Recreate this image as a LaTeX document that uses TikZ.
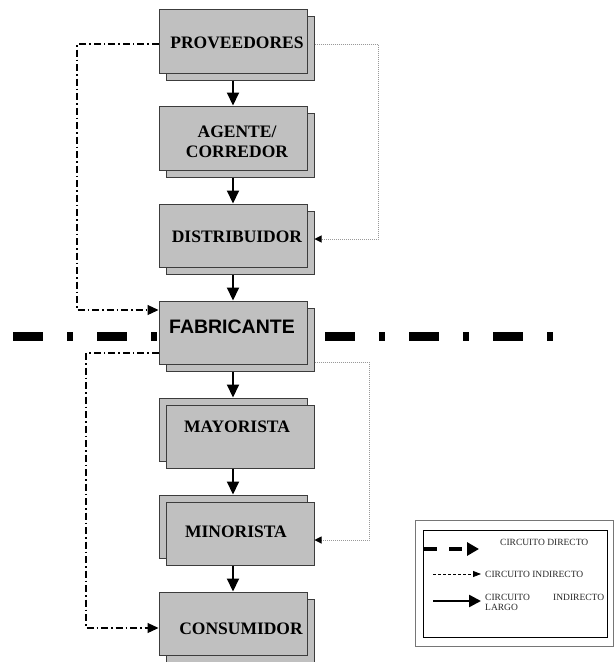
\documentclass[tikz,border=0pt]{standalone}
\usepackage{fontspec}
\setmainfont{Liberation Serif}
\newfontfamily\arial{Liberation Sans}
\usetikzlibrary{arrows.meta,shadows}
\definecolor{gris}{HTML}{C0C0C0}
\definecolor{borde}{HTML}{3C3C3C}
\definecolor{punteado}{HTML}{999999}
\tikzset{
  caja/.style={draw=borde, fill=gris, line width=1pt, minimum width=148pt, minimum height=64pt, inner sep=0pt},
  sombra/.style={copy shadow={shadow xshift=7pt, shadow yshift=-7pt, fill=gris, draw=borde, line width=1pt}},
  sombrainv/.style={copy shadow={shadow xshift=-7pt, shadow yshift=7pt, fill=gris, draw=borde, line width=1pt}},
  rotulo/.style={font=\fontsize{17.5}{20}\selectfont\bfseries, text=black, align=center, inner sep=0pt},
  flecha/.style={line width=2pt, -{Triangle[length=13pt,width=12pt]}},
  rayapunto/.style={line width=1.2pt, dash pattern=on 7pt off 3pt on 1.5pt off 3pt, -{Triangle[length=11pt,width=10pt]}},
  puntos/.style={punteado, line width=1pt, dash pattern=on 1pt off 1pt, -{Triangle[length=7pt,width=7pt,black]}},
  leyenda/.style={font=\fontsize{9.5}{10}\selectfont, text=black!85, inner sep=0pt, anchor=west},
}
\begin{document}
\begin{tikzpicture}[x=1pt, y=-1pt]
    \useasboundingbox (0,0) rectangle (615,662);

    %%linea gruesa
    \coordinate (lina) at (13,336.5);
    \coordinate (linb) at (159,336.5);
    \coordinate (linc) at (325,336.5);
    \coordinate (lind) at (555,336.5);
    \draw[line width=9pt, dash pattern=on 30pt off 24pt on 6pt off 24pt] (lina) to (linb);
    \draw[line width=9pt, dash pattern=on 30pt off 24pt on 6pt off 24pt] (linc) to (lind);

    %%cajas
    \node[caja, sombra] (prov) at (233,41) {};
    \node[caja, sombra] (agen) at (233,138) {};
    \node[caja, sombra, minimum height=63pt] (dist) at (233,235.5) {};
    \node[caja, sombra, minimum height=63pt] (fab) at (233,332.5) {};
    \node[caja, sombrainv, minimum height=63pt] (may) at (240,436.5) {};
    \node[caja, sombrainv, minimum height=63pt] (min) at (240,533.5) {};
    \node[caja, sombra, minimum height=63pt] (cons) at (233,623.5) {};

    \node[rotulo] (tprov) at (237,42.5) {PROVEEDORES};
    \node[rotulo] (tagen) at (237,142) {AGENTE/\\CORREDOR};
    \node[rotulo] (tdist) at (237,237) {DISTRIBUIDOR};
    \node[rotulo, font=\arial\fontsize{19.5}{22}\selectfont\bfseries] (tfab) at (232,327) {FABRICANTE};
    \node[rotulo] (tmay) at (237,427) {MAYORISTA};
    \node[rotulo] (tmin) at (236,532) {MINORISTA};
    \node[rotulo] (tcons) at (241,629) {CONSUMIDOR};

    %%flechas
    \draw[flecha] ([yshift=-7pt]prov.south) to (agen.north);
    \draw[flecha] ([yshift=-7pt]agen.south) to (dist.north);
    \draw[flecha] ([yshift=-7pt]dist.south) to (fab.north);
    \draw[flecha] ([yshift=-7pt]fab.south) to ([xshift=-7pt,yshift=7pt]may.north);
    \draw[flecha] ([xshift=-7pt]may.south) to ([xshift=-7pt,yshift=7pt]min.north);
    \draw[flecha] ([xshift=-7pt]min.south) to (cons.north);

    %%izquierda
    \coordinate (izqa) at (77,310);
    \draw[rayapunto] ([yshift=-3pt]prov.west) -| (izqa) -- (izqa -| fab.west);
    \coordinate (izqb) at (86,628);
    \draw[rayapunto] ([yshift=-20.5pt]fab.west) -| (izqb) -- (izqb -| cons.west);

    %%derecha
    \coordinate (dera) at (378,239);
    \draw[puntos] ([xshift=7pt,yshift=-3pt]prov.east) -| (dera) -- ([xshift=7pt]dist.east |- dera);
    \coordinate (derb) at (369,540);
    \draw[puntos] ([xshift=7pt,yshift=-29.5pt]fab.east) -| (derb) -- (min.east |- derb);

    %%leyenda
    \node[draw=borde!70, line width=0.8pt, minimum width=198pt, minimum height=126pt, inner sep=0pt] (leyext) at (514,583) {};
    \node[draw=black, line width=0.8pt, minimum width=184pt, minimum height=107pt, inner sep=0pt] (leyint) at (515,583.5) {};

    \coordinate (la1) at (424,549);
    \coordinate (lb1) at (479,549);
    \draw[line width=4pt, dash pattern=on 13pt off 12pt, -{Triangle[length=12pt,width=13pt]}] (la1) to (lb1);
    \node[leyenda] (t1) at (500,542) {CIRCUITO DIRECTO};

    \coordinate (la2) at (433,574);
    \coordinate (lb2) at (481,574);
    \draw[line width=0.8pt, dash pattern=on 3pt off 2pt, -{Triangle[length=8pt,width=6pt]}] (la2) to (lb2);
    \node[leyenda] (t2) at (485,574) {CIRCUITO INDIRECTO};

    \coordinate (la3) at (433,601);
    \coordinate (lb3) at (481,601);
    \draw[line width=2.5pt, -{Triangle[length=12pt,width=12pt]}] (la3) to (lb3);
    \node[leyenda, text width=119pt, align=justify, anchor=north west] (t3) at (485,594.5) {CIRCUITO \mbox{INDIRECTO} LARGO};

\end{tikzpicture}
\end{document}
